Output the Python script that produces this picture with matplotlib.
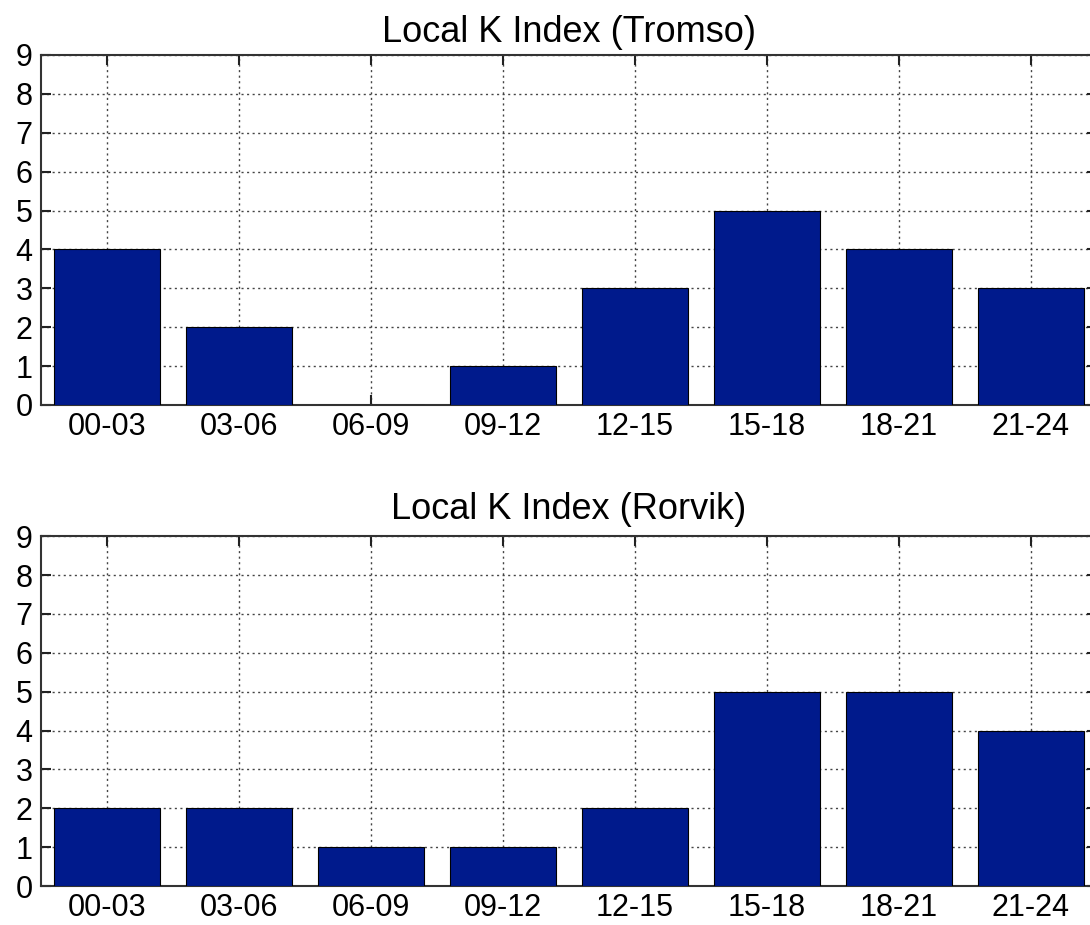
import matplotlib.pyplot as plt
import numpy as np

# 3-hour local K index values for the two stations
periods = ["00-03", "03-06", "06-09", "09-12", "12-15", "15-18", "18-21", "21-24"]
k_tromso = [4, 2, 0, 1, 3, 5, 4, 3]
k_rorvik = [2, 2, 1, 1, 2, 5, 5, 4]

bar_color = "#001a8c"

plt.rcParams["font.family"] = ["Liberation Sans", "DejaVu Sans"]

fig = plt.figure(figsize=(10.9, 9.25), dpi=100)

# axes run slightly past the right edge of the canvas
ax_top = fig.add_axes([0.0376, 0.5622, 0.9688, 0.3784])
ax_bot = fig.add_axes([0.0376, 0.0420, 0.9688, 0.3784])

x = np.arange(1, len(periods) + 1)

panels = [(ax_top, k_tromso, "Tromso", 9), (ax_bot, k_rorvik, "Rorvik", 12)]
for ax, values, station, tpad in panels:
    ax.bar(x, values, width=0.8, color=bar_color, edgecolor="black",
           linewidth=0.8, zorder=3)
    ax.set_xlim(0.5, 8.5)
    ax.set_ylim(0, 9)
    ax.set_xticks(x)
    ax.set_xticklabels(periods)
    ax.set_yticks(range(0, 10))
    ax.grid(True, linestyle=(0, (1.5, 2.5)), color="#444444", linewidth=1.0, zorder=0)
    ax.tick_params(direction="in", length=7, width=1.5, top=True, right=True,
                   labelsize=22, pad=6, colors="#222222", labelcolor="black")
    ax.tick_params(axis="x", pad=5)
    for sp in ax.spines.values():
        sp.set_linewidth(1.5)
        sp.set_color("#333333")
    ax.set_title(f"Local K Index ({station})", fontsize=26, pad=tpad)

fig.savefig("out.png", dpi=100)
